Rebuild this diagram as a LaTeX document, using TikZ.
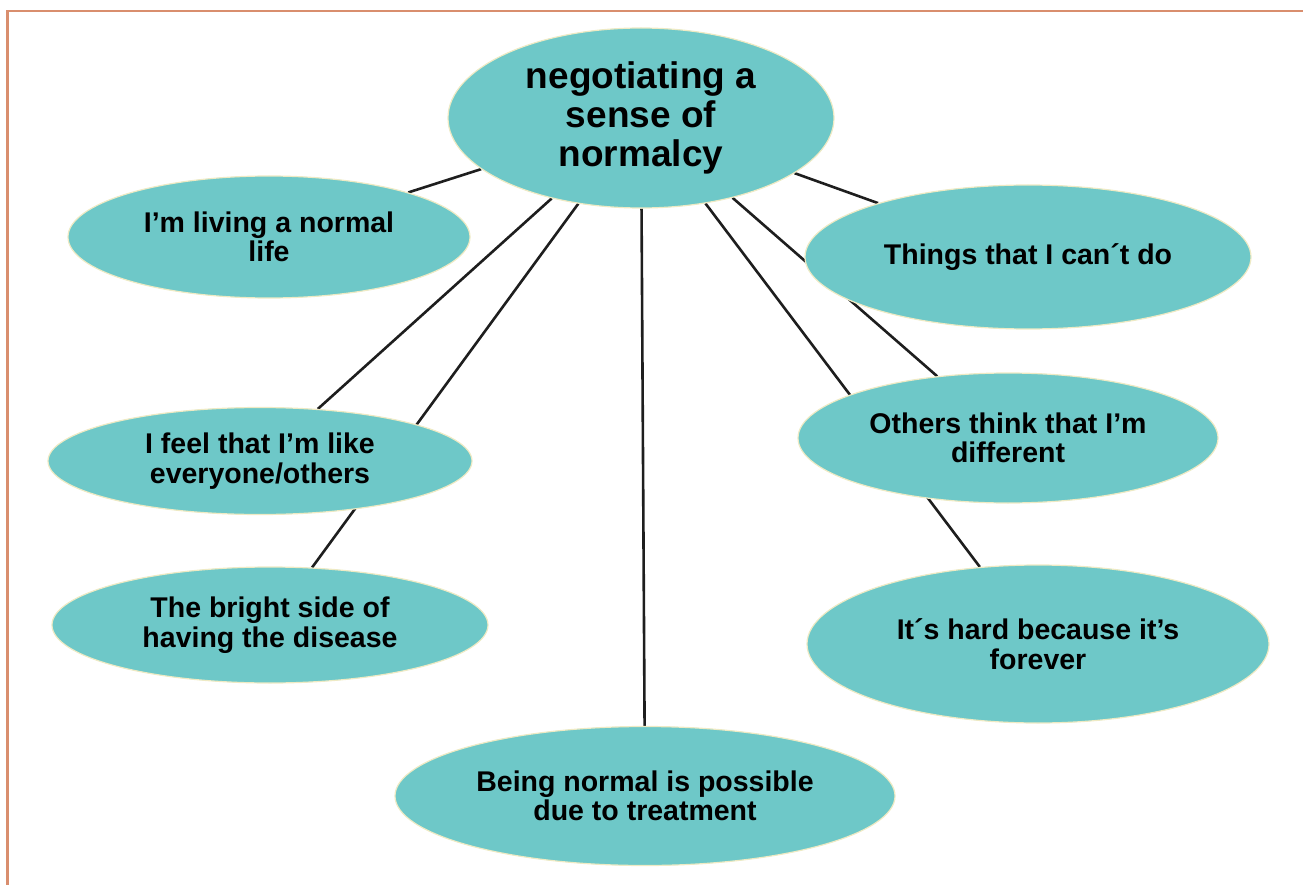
\documentclass[tikz,border=0pt]{standalone}
\usepackage{fontspec}
\setmainfont{Liberation Sans}
\usetikzlibrary{shapes.geometric,backgrounds}
\definecolor{teal1}{RGB}{110,200,200}
\definecolor{rimcol}{RGB}{238,234,196}
\definecolor{framecol}{RGB}{217,142,110}
\definecolor{linkcol}{RGB}{30,30,30}
\tikzset{
  bubble/.style={ellipse, fill=teal1, draw=rimcol, line width=1.2pt, inner sep=0pt,
    align=center, font=\bfseries\fontsize{28.5}{29.5}\selectfont},
  bigbubble/.style={bubble, font=\bfseries\fontsize{37}{39}\selectfont},
  link/.style={draw=linkcol, line width=2.6pt},
  framestyle/.style={draw=framecol, line width=2.5pt}
}
\begin{document}
\begin{tikzpicture}[x=1pt, y=-1pt]
\useasboundingbox (0,0) rectangle (1303,885);
\draw[framestyle] (7.5,885) -- (7.5,11) -- (1303,11);

\node[bigbubble, minimum width=386pt, minimum height=180pt] (c) at (641,118) {negotiating a\\sense of\\normalcy};
\node[bubble, minimum width=402pt, minimum height=122pt] (liv) at (269,237) {I’m living a normal\\life};
\node[bubble, minimum width=446pt, minimum height=144pt] (thi) at (1028,257) {Things that I can´t do};
\node[bubble, minimum width=424pt, minimum height=107pt] (fee) at (260,461) {I feel that I’m like\\everyone/others};
\node[bubble, minimum width=420pt, minimum height=130pt] (oth) at (1008,438) {Others think that I’m\\different};
\node[bubble, minimum width=436pt, minimum height=116pt] (bri) at (270,625) {The bright side of\\having the disease};
\node[bubble, minimum width=462pt, minimum height=158pt] (har) at (1038,644) {It´s hard because it’s\\forever};
\node[bubble, minimum width=500pt, minimum height=139pt] (bei) at (645,796) {Being normal is possible\\due to treatment};

\begin{pgfonlayer}{background}
\draw[link] (c) -- (liv);
\draw[link] (c) -- (fee);
\draw[link] (c) -- (bri);
\draw[link] (c) -- (bei);
\draw[link] (c) -- (har);
\draw[link] (c) -- (oth);
\draw[link] (c) -- (thi);
\end{pgfonlayer}
\end{tikzpicture}
\end{document}
